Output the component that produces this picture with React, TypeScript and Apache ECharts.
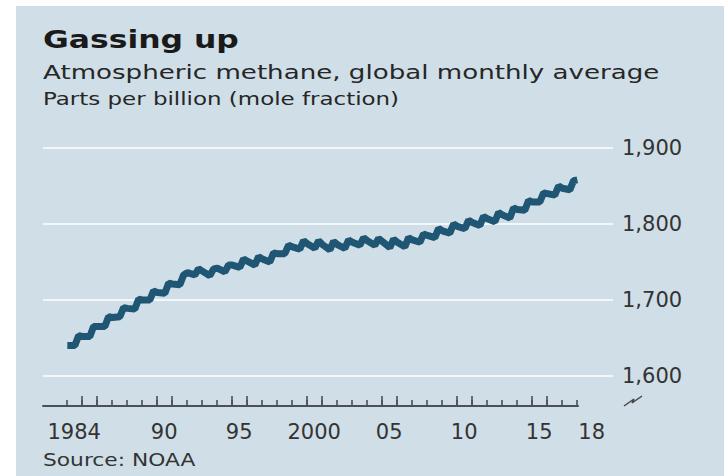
import { useEffect, useRef } from 'react';
import * as echarts from 'echarts';

// ---- data ----
const years = [
  1984, 1985, 1986, 1987, 1988, 1989, 1990, 1991, 1992, 1993, 1994, 1995,
  1996, 1997, 1998, 1999, 2000, 2001, 2002, 2003, 2004, 2005, 2006, 2007,
  2008, 2009, 2010, 2011, 2012, 2013, 2014, 2015, 2016, 2017, 2018,
];
// months (fraction of year) at which values are read: January, July, October
const sampleMonths = [0.5, 6.5, 9.5];
const janValues = [
  1640, 1652, 1665, 1677, 1689, 1700, 1710, 1721, 1736, 1738, 1742, 1746,
  1751, 1754, 1761, 1770, 1774, 1773, 1773, 1776, 1778, 1777, 1776, 1779,
  1785, 1791, 1797, 1802, 1807, 1812, 1819, 1829, 1840, 1847, 1858,
];
const julValues = [
  1640, 1652, 1665, 1678, 1688, 1700, 1709, 1720, 1733, 1732, 1737, 1743,
  1746, 1750, 1761, 1767, 1768, 1766, 1768, 1772, 1772, 1769, 1770, 1776,
  1782, 1788, 1794, 1798, 1803, 1808, 1818, 1829, 1838, 1845, null,
];
const octValues = [
  1653, 1665, 1678, 1690, 1701, 1712, 1722, 1733, 1741, 1741, 1746, 1754,
  1757, 1762, 1772, 1778, 1778, 1777, 1779, 1782, 1781, 1780, 1782, 1787,
  1794, 1800, 1805, 1810, 1815, 1821, 1831, 1841, 1850, 1857, null,
];
const axisYears = years.map(String);
const xTickLabels: Record<string, string> = {
  '1984': '1984', '1990': '90', '1995': '95', '2000': '2000',
  '2005': '05', '2010': '10', '2015': '15', '2018': '18',
};
const yMin = 1600;
const yMax = 1900;
const yStep = 100;

const titleText = 'Gassing up';
const subtitleText = 'Atmospheric methane, global monthly average';
const unitText = 'Parts per billion (mole fraction)';
const sourceText = 'Source: NOAA';

const seriesData: [number, number][] = [];
years.forEach((y, i) => {
  const vals = [janValues[i], julValues[i], octValues[i]];
  vals.forEach((v, k) => {
    if (v != null) seriesData.push([y + sampleMonths[k] / 12, v]);
  });
});

const FONT = '"DejaVu Sans", "Noto Sans", sans-serif';
const AXIS_COLOR = '#4b5055';

export default function App() {
  const ref = useRef<HTMLDivElement>(null);
  useEffect(() => {
    document.body.style.margin = '0';
    if (!ref.current) return;
    const chart = echarts.init(ref.current, undefined, { renderer: 'svg' });
    const yAxisHidden = (gridIndex: number) => ({
      gridIndex, type: 'value', min: yMin, max: yMax, show: false,
    });
    chart.setOption({
      animation: false,
      backgroundColor: '#cfdee7',
      grid: [
        { left: 43, right: 111, top: 148, bottom: 100 },
        { left: 43, width: 535, top: 148, bottom: 100 },
        { left: 66.7, width: 510, top: 148, bottom: 100 },
      ],
      xAxis: [
        { gridIndex: 0, type: 'value', min: 1982.42, max: 2020.42, show: false },
        {
          gridIndex: 1, type: 'value', min: 0, max: 1, position: 'bottom', offset: 30,
          axisLine: { show: true, lineStyle: { color: AXIS_COLOR, width: 2 } },
          axisTick: { show: false }, axisLabel: { show: false }, splitLine: { show: false },
        },
        {
          gridIndex: 2, type: 'category', data: axisYears, boundaryGap: false,
          position: 'bottom', offset: 30,
          axisLine: { show: false },
          axisTick: { show: true, inside: true, length: 6, interval: 0, lineStyle: { color: AXIS_COLOR, width: 1.6 } },
          axisLabel: {
            show: true,
            interval: (_i: number, v: string) => v in xTickLabels,
            formatter: (v: string) => (v === '2018' ? `{e|${xTickLabels[v]}}` : `{s|${xTickLabels[v]}}`),
            margin: 15,
            color: '#333',
            fontSize: 21,
            fontFamily: FONT,
            rich: {
              s: { padding: [0, 0, 0, 15], fontSize: 21, fontFamily: FONT, color: '#333' },
              e: { padding: [0, 0, 0, 30], fontSize: 21, fontFamily: FONT, color: '#333' },
            },
          },
          splitLine: { show: false },
        },
        {
          gridIndex: 2, type: 'category', data: axisYears, boundaryGap: false,
          position: 'bottom', offset: 30,
          axisLine: { show: false },
          axisTick: {
            show: true, inside: true, length: 10,
            interval: (_i: number, v: string) => Number(v) % 5 === 0 || Number(v) % 5 === 1,
            lineStyle: { color: AXIS_COLOR, width: 1.6 },
          },
          axisLabel: { show: false },
          splitLine: { show: false },
        },
      ],
      yAxis: [
        {
          gridIndex: 0, type: 'value', min: yMin, max: yMax, interval: yStep, position: 'right',
          axisLine: { show: false }, axisTick: { show: false },
          splitLine: { show: true, lineStyle: { color: '#ffffff', width: 1.6 } },
          axisLabel: {
            margin: 9, color: '#333', fontSize: 21, fontFamily: FONT,
            formatter: (v: number) => v.toLocaleString('en-US'),
          },
        },
        yAxisHidden(1),
        yAxisHidden(2),
      ],
      series: [
        {
          type: 'line', xAxisIndex: 0, yAxisIndex: 0, data: seriesData,
          showSymbol: false, symbol: 'none',
          lineStyle: { color: '#1f5673', width: 7 },
          z: 5,
        },
      ],
      graphic: [
        { type: 'rect', silent: true, shape: { x: 0, y: 0, width: 724, height: 6 }, style: { fill: '#ffffff' } },
        { type: 'rect', silent: true, shape: { x: 0, y: 0, width: 16, height: 476 }, style: { fill: '#ffffff' } },
        {
          type: 'text', x: 66, y: -3, silent: true,
          style: { text: 'y', fill: '#000', fontSize: 44, fontWeight: 'bold', fontFamily: FONT, align: 'left', verticalAlign: 'bottom' },
        },
        {
          type: 'text', x: 348, y: -3, silent: true,
          style: { text: 'g', fill: '#000', fontSize: 44, fontWeight: 'bold', fontFamily: FONT, align: 'left', verticalAlign: 'bottom' },
        },
        {
          type: 'text', x: 43, y: 28, scaleX: 1.31,
          style: { text: titleText, fill: '#1a1a1a', fontSize: 24, fontWeight: 'bold', fontFamily: FONT, align: 'left', verticalAlign: 'top' },
        },
        {
          type: 'text', x: 43, y: 62, scaleX: 1.305,
          style: { text: subtitleText, fill: '#262626', fontSize: 20, fontFamily: FONT, align: 'left', verticalAlign: 'top' },
        },
        {
          type: 'text', x: 43, y: 91, scaleX: 1.35,
          style: { text: unitText, fill: '#262626', fontSize: 17, fontFamily: FONT, align: 'left', verticalAlign: 'top' },
        },
        {
          type: 'text', x: 43, y: 452, scaleX: 1.28,
          style: { text: sourceText, fill: '#333', fontSize: 17, fontFamily: FONT, align: 'left', verticalAlign: 'top' },
        },
        {
          type: 'polyline', silent: true,
          shape: { points: [[624, 406], [634, 399], [632, 403], [642, 396]] },
          style: { stroke: '#444', lineWidth: 1.5, fill: null },
        },
      ],
    });
    return () => chart.dispose();
  }, []);
  return <div ref={ref} style={{ position: 'absolute', left: 0, top: 0, width: 724, height: 476 }} />;
}
